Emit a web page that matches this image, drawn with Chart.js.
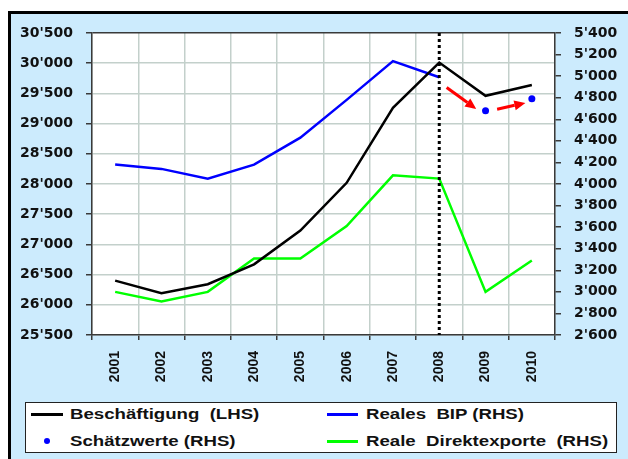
<!DOCTYPE html>
<html>
<head>
<meta charset="utf-8">
<script src="https://cdn.jsdelivr.net/npm/chart.js@4"></script>
<style>
  body { margin: 0; background: #fff; width: 628px; height: 459px; overflow: hidden; position: relative; }
  #frame { position: absolute; left: 8px; top: 11px; width: 640px; height: 470px;
           border-left: 3px solid #000; border-top: 3px solid #000; background: #CCEBFD; }
  #chart { position: absolute; left: 0; top: 0; }
  #legend { position: absolute; left: 25px; top: 402px; width: 590px; height: 49px;
            border: 1px solid #222; background: #fff; }
  .item { position: absolute; font: bold 14px "Liberation Sans", Arial, sans-serif; color: #111;
          line-height: 16px; white-space: pre; transform: scaleX(1.33); transform-origin: left center; }
  .swatch { position: absolute; height: 3px; }
  .dot { position: absolute; width: 6px; height: 6px; border-radius: 50%; background: #0000ff; }
</style>
</head>
<body>
<div id="frame"></div>
<canvas id="chart" width="628" height="459"></canvas>
<div id="legend">
  <div class="swatch" style="left:5px;top:10px;width:32px;background:#000"></div>
  <div class="item" style="left:44px;top:3px">Beschäftigung  (LHS)</div>
  <div class="swatch" style="left:301px;top:10px;width:31px;background:#0000ff"></div>
  <div class="item" style="left:340px;top:3px">Reales  BIP (RHS)</div>
  <div class="dot" style="left:18px;top:35px"></div>
  <div class="item" style="left:44px;top:30px">Schätzwerte (RHS)</div>
  <div class="swatch" style="left:301px;top:37px;width:31px;background:#00ff00"></div>
  <div class="item" style="left:340px;top:30px">Reale  Direktexporte  (RHS)</div>
</div>
<script>
// data
const years = ["2001","2002","2003","2004","2005","2006","2007","2008","2009","2010"];
const beschaeftigung = [26400, 26190, 26340, 26670, 27230, 28020, 29260, 30010, 29460, 29640];
const realesBip = [4180, 4140, 4050, 4180, 4430, 4780, 5140, 4990, null, null];
const schaetzwerte = [null, null, null, null, null, null, null, null, 4680, 4790];
const direktexporte = [3000, 2910, 3000, 3310, 3310, 3610, 4080, 4050, 3000, 3290];
const leftMin = 25500, leftMax = 30500, leftStep = 500;
const rightMin = 2600, rightMax = 5400, rightStep = 200;
const markerYear = "2008";

const fmt = v => String(v).replace(/\B(?=(\d{3})+(?!\d))/g, "'");
const gridCol = "#c3d0cb";
const axisCol = "#3a3a3a";
const tickFont = { family: "DejaVu Sans", weight: "bold", size: 14 };

// white plot area
const plotBg = {
    id: "plotBg",
    beforeDraw(c) {
        const a = c.chartArea, ctx = c.ctx;
        ctx.save();
        ctx.fillStyle = "#fff";
        ctx.fillRect(a.left, a.top, a.right - a.left, a.bottom - a.top);
        ctx.restore();
    }
};

function arrow(ctx, x1, y1, x2, y2) {
    const ang = Math.atan2(y2 - y1, x2 - x1), hl = 11, hw = 5;
    const bx = x2 - hl * Math.cos(ang), by = y2 - hl * Math.sin(ang);
    ctx.beginPath();
    ctx.moveTo(x1, y1);
    ctx.lineTo(bx, by);
    ctx.stroke();
    ctx.beginPath();
    ctx.moveTo(x2, y2);
    ctx.lineTo(bx + hw * Math.sin(ang), by - hw * Math.cos(ang));
    ctx.lineTo(bx - hw * Math.sin(ang), by + hw * Math.cos(ang));
    ctx.closePath();
    ctx.fill();
}

// dotted 2008 line + red arrows towards the estimates
const notes = {
    id: "notes",
    afterDatasetsDraw(c) {
        const ctx = c.ctx, a = c.chartArea, x = c.scales.x, y1 = c.scales.y1;
        const mx = x.getPixelForValue(years.indexOf(markerYear));
        ctx.save();
        ctx.strokeStyle = "#000";
        ctx.lineWidth = 3;
        ctx.setLineDash([3, 3]);
        ctx.beginPath();
        ctx.moveTo(mx, a.top);
        ctx.lineTo(mx, a.bottom);
        ctx.stroke();
        ctx.setLineDash([]);

        const i = years.indexOf(markerYear);
        const p0 = [x.getPixelForValue(i), y1.getPixelForValue(realesBip[i])];
        const p1 = [x.getPixelForValue(i + 1), y1.getPixelForValue(schaetzwerte[i + 1])];
        const p2 = [x.getPixelForValue(i + 2), y1.getPixelForValue(schaetzwerte[i + 2])];
        const lerp = (p, q, t, dy) => [p[0] + (q[0] - p[0]) * t, p[1] + (q[1] - p[1]) * t + dy];
        ctx.strokeStyle = ctx.fillStyle = "#ff0000";
        ctx.lineWidth = 3;
        let s = lerp(p0, p1, 0.16, 5), e = lerp(p0, p1, 0.8, 5);
        arrow(ctx, s[0], s[1], e[0], e[1]);
        s = lerp(p1, p2, 0.25, 1.5); e = lerp(p1, p2, 0.86, 2.5);
        arrow(ctx, s[0], s[1], e[0], e[1]);
        ctx.restore();
    }
};

new Chart(document.getElementById("chart"), {
    type: "line",
    data: {
        labels: years,
        datasets: [
            { label: "Beschäftigung (LHS)", data: beschaeftigung, yAxisID: "y",
              borderColor: "#000", borderWidth: 2.5, pointRadius: 0, tension: 0 },
            { label: "Reales BIP (RHS)", data: realesBip, yAxisID: "y1",
              borderColor: "#0000ff", borderWidth: 2.5, pointRadius: 0, tension: 0 },
            { label: "Schätzwerte (RHS)", data: schaetzwerte, yAxisID: "y1", showLine: false,
              borderColor: "#0000ff", backgroundColor: "#0000ff", pointRadius: 3.5, pointBorderWidth: 0 },
            { label: "Reale Direktexporte (RHS)", data: direktexporte, yAxisID: "y1",
              borderColor: "#00ff00", borderWidth: 2.5, pointRadius: 0, tension: 0 }
        ]
    },
    options: {
        responsive: false,
        animation: false,
        layout: { padding: { top: 33, left: 0, right: 0, bottom: 0 } },
        plugins: { legend: { display: false }, tooltip: { enabled: false } },
        scales: {
            x: {
                offset: true,
                grid: { offset: true, color: gridCol, tickColor: axisCol, tickLength: 5, lineWidth: 1.5 },
                border: { color: axisCol, width: 1.5 },
                ticks: { color: "#111", minRotation: 90, maxRotation: 90, padding: 11,
                         font: { family: "Liberation Sans", weight: "bold", size: 14 } },
                afterFit: s => { s.height = 124; }
            },
            y: {
                position: "left", min: leftMin, max: leftMax,
                grid: { color: ctx => ctx.tick && ctx.tick.value === leftMax ? axisCol : gridCol,
                        tickColor: axisCol, tickLength: 6, lineWidth: 1.5 },
                border: { color: axisCol, width: 1.5 },
                ticks: { stepSize: leftStep, color: "#111", padding: 13, font: tickFont, callback: v => fmt(v) },
                afterFit: s => { s.width = 92; }
            },
            y1: {
                position: "right", min: rightMin, max: rightMax,
                grid: { drawOnChartArea: false, tickColor: axisCol, tickLength: 6, lineWidth: 1.5 },
                border: { color: axisCol, width: 1.5 },
                ticks: { stepSize: rightStep, color: "#111", padding: 13, font: tickFont, callback: v => fmt(v) },
                afterFit: s => { s.width = 73; }
            }
        }
    },
    plugins: [plotBg, notes]
});
</script>
</body>
</html>
